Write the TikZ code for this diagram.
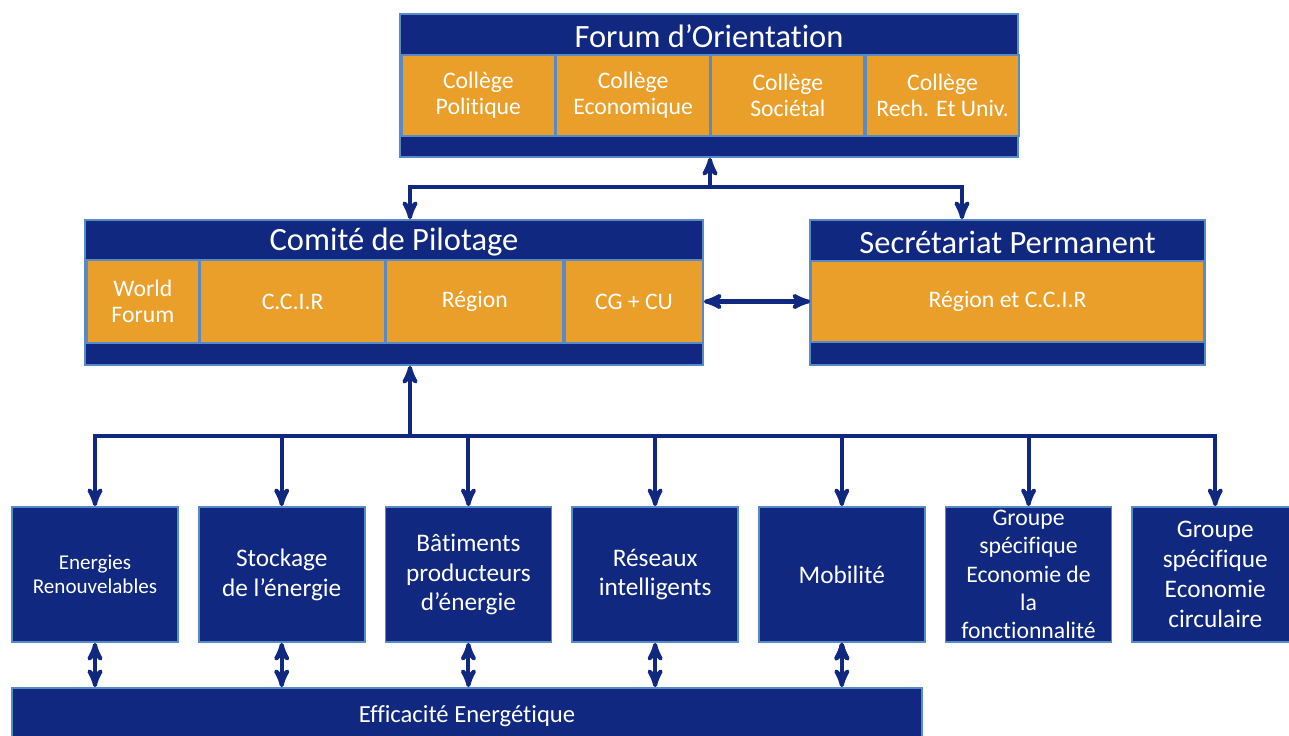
\documentclass[tikz,border=0pt]{standalone}
\usepackage{fontspec}
\setmainfont{Carlito}[Ligatures={TeX,NoCommon}]
\usetikzlibrary{arrows,positioning}
\definecolor{navy}{RGB}{17,40,128}
\definecolor{ambre}{RGB}{233,159,42}
\definecolor{bordure}{RGB}{88,138,200}

\begin{document}
\begin{tikzpicture}[x=0.02cm,y=-0.02cm,>=stealth',node distance=3.735cm,
                    text=white]
  \tikzstyle{panel}=[fill=navy,draw=bordure,line width=1pt,inner sep=0pt]
  \tikzstyle{titre}=[inner sep=0pt,minimum height=0.8cm,yshift=-0.05cm,
                     font=\fontsize{18.5}{22}\selectfont]
  \tikzstyle{cell}=[fill=ambre,draw=bordure,line width=1pt,inner sep=0pt,
                    align=center,font=\fontsize{13.5}{15}\selectfont]
  \tikzstyle{groupe}=[panel,minimum width=3.32cm,minimum height=2.7cm,
                      align=center,font=\fontsize{14.4}{17}\selectfont]
  \tikzstyle{lien}=[draw=navy,line width=2.3pt]

  \useasboundingbox (0,0) rectangle (1289,736);
  \clip (0,0) rectangle (1289,736);

  % Forum d'Orientation
  \node[panel,minimum width=12.36cm,minimum height=2.86cm] (forum) at (709,85.5) {};
  \node[titre,anchor=north] (forumT) at (forum.north) {Forum d’Orientation};
  \node[cell,minimum width=3.06cm,minimum height=1.62cm,anchor=west] (pol) at (401,95.5) {Collège\\Politique};
  \node[cell,minimum width=3.06cm,minimum height=1.62cm] (eco) [right=0pt of pol] {Collège\\Economique};
  \node[cell,minimum width=3.06cm,minimum height=1.62cm] (soc) [right=0pt of eco] {Collège\\Sociétal};
  \node[cell,minimum width=3.06cm,minimum height=1.62cm] (rech) [right=0pt of soc] {Collège\\Rech. Et Univ.};

  % Comite de Pilotage
  \node[panel,minimum width=12.36cm,minimum height=2.9cm] (comite) at (394,292.5) {};
  \node[titre,anchor=north] (comiteT) at (comite.north) {Comité de Pilotage};
  \node[cell,minimum width=2.24cm,minimum height=1.66cm,anchor=west] (wf) at (86,301.5) {World\\Forum};
  \node[cell,minimum width=3.68cm,minimum height=1.66cm] (ccir) [right=0pt of wf] {C.C.I.R};
  \node[cell,minimum width=3.54cm,minimum height=1.66cm] (reg) [right=0pt of ccir] {Région};
  \node[cell,minimum width=2.76cm,minimum height=1.66cm] (cgcu) [right=0pt of reg] {CG + CU};

  % Secretariat Permanent
  \node[panel,minimum width=7.9cm,minimum height=2.9cm] (secr) at (1007.5,292.5) {};
  \node[titre,anchor=north] (secrT) at (secr.north) {Secrétariat Permanent};
  \node[cell,minimum width=7.86cm,minimum height=1.62cm] (regcc) at (1007.5,301.5) {Région et C.C.I.R};

  % groupes de travail
  \node[groupe,font=\fontsize{12}{13.6}\selectfont] (enr) at (95,574.5) {Energies\\Renouvelables};
  \node[groupe] (stock) [right of=enr]   {Stockage\\de l’énergie};
  \node[groupe] (bat)   [right of=stock] {Bâtiments\\producteurs\\d’énergie};
  \node[groupe] (res)   [right of=bat]   {Réseaux\\intelligents};
  \node[groupe] (mob)   [right of=res]   {Mobilité};
  \node[groupe,font=\fontsize{13.5}{16}\selectfont] (gsef) [right of=mob] {Groupe\\spécifique\\Economie de\\la\\fonctionnalité};
  \node[groupe] (gsec)  [right of=gsef]  {Groupe\\spécifique\\Economie\\circulaire};

  \node[panel,minimum width=18.2cm,minimum height=1.12cm,
        font=\fontsize{14}{16}\selectfont] (eff) at (467,716) {Efficacité Energétique};

  % liaisons
  \coordinate (busF) at (710,187);
  \coordinate (busS) at (962,187);
  \coordinate (busP) at (410,436);

  \draw[lien,->] (busF) -- (forum.south -| busF);
  \draw[lien,->] (busF) -| (comite.north -| busP);
  \draw[lien,->] (busF) -- (busS) -- (secr.north -| busS);
  \draw[lien,<->] (cgcu.east) -- (regcc.west);

  \draw[lien,->] (busP) -- (comite.south -| busP);
  \draw[lien,->] (busP) -| (enr.north);
  \draw[lien,->] (busP) -| (stock.north);
  \draw[lien,->] (busP) -| (bat.north);
  \draw[lien,->] (busP) -| (res.north);
  \draw[lien,->] (busP) -| (mob.north);
  \draw[lien,->] (busP) -| (gsef.north);
  \draw[lien,->] (busP) -| (gsec.north);

  \path[lien,<->] (enr.south)   edge (enr.south |- eff.north)
                  (stock.south) edge (stock.south |- eff.north)
                  (bat.south)   edge (bat.south |- eff.north)
                  (res.south)   edge (res.south |- eff.north)
                  (mob.south)   edge (mob.south |- eff.north);
\end{tikzpicture}
\end{document}
